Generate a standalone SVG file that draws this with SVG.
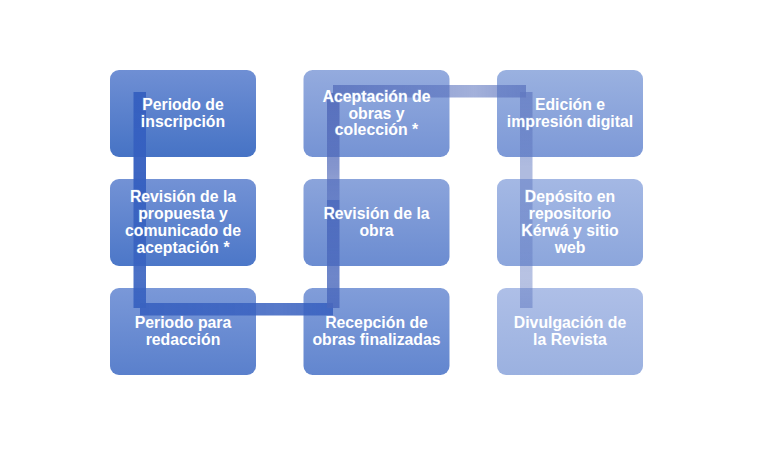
<svg xmlns="http://www.w3.org/2000/svg" xmlns:xlink="http://www.w3.org/1999/xlink" width="767" height="450" viewBox="0 0 767 450">
<style>
.label{font-family:"Liberation Sans",Arial,"DejaVu Sans",sans-serif;font-weight:bold;font-size:15.8px;text-anchor:middle}
.node{fill:#ffffff}
</style>
<defs>
<linearGradient id="b1" x1="0" y1="0" x2="0" y2="1"><stop offset="0" stop-color="#6f8fd4"/><stop offset="1" stop-color="#4673c5"/></linearGradient>
<linearGradient id="b2" x1="0" y1="0" x2="0" y2="1"><stop offset="0" stop-color="#7392d5"/><stop offset="1" stop-color="#4c77c8"/></linearGradient>
<linearGradient id="b3" x1="0" y1="0" x2="0" y2="1"><stop offset="0" stop-color="#7a98d8"/><stop offset="1" stop-color="#5a80cc"/></linearGradient>
<linearGradient id="b4" x1="0" y1="0" x2="0" y2="1"><stop offset="0" stop-color="#819dd9"/><stop offset="1" stop-color="#6286cf"/></linearGradient>
<linearGradient id="b5" x1="0" y1="0" x2="0" y2="1"><stop offset="0" stop-color="#8ba4db"/><stop offset="1" stop-color="#6b8cd1"/></linearGradient>
<linearGradient id="b6" x1="0" y1="0" x2="0" y2="1"><stop offset="0" stop-color="#94abde"/><stop offset="1" stop-color="#7593d4"/></linearGradient>
<linearGradient id="b7" x1="0" y1="0" x2="0" y2="1"><stop offset="0" stop-color="#9ab1e0"/><stop offset="1" stop-color="#7d99d7"/></linearGradient>
<linearGradient id="b8" x1="0" y1="0" x2="0" y2="1"><stop offset="0" stop-color="#a4b8e4"/><stop offset="1" stop-color="#8ca6dc"/></linearGradient>
<linearGradient id="b9" x1="0" y1="0" x2="0" y2="1"><stop offset="0" stop-color="#aebfe7"/><stop offset="1" stop-color="#9bb1e0"/></linearGradient>

<linearGradient id="g1" x1="0" y1="0" x2="0" y2="1"><stop offset="0" stop-color="#3660c0" stop-opacity="0.98"/><stop offset="0.7" stop-color="#3660c0" stop-opacity="0.96"/><stop offset="1" stop-color="#3660c0" stop-opacity="0.98"/></linearGradient>
<linearGradient id="g2" x1="0" y1="0" x2="0" y2="1"><stop offset="0" stop-color="#3862c0" stop-opacity="0.97"/><stop offset="0.71" stop-color="#3862c0" stop-opacity="0.9"/><stop offset="1" stop-color="#3862c0" stop-opacity="0.95"/></linearGradient>
<linearGradient id="g3" x1="0" y1="0" x2="1" y2="0"><stop offset="0" stop-color="#3a62c0" stop-opacity="0.92"/><stop offset="0.725" stop-color="#3a62c0" stop-opacity="0.85"/><stop offset="1" stop-color="#3a62c0" stop-opacity="0.9"/></linearGradient>
<linearGradient id="g4" x1="0" y1="1" x2="0" y2="0"><stop offset="0" stop-color="#4a68bc" stop-opacity="0.85"/><stop offset="0.29" stop-color="#4a68bc" stop-opacity="0.8"/><stop offset="1" stop-color="#4a68bc" stop-opacity="0.9"/></linearGradient>
<linearGradient id="g5" x1="0" y1="0" x2="0" y2="1"><stop offset="0" stop-color="#5068b8" stop-opacity="0.85"/><stop offset="0.7" stop-color="#5068b8" stop-opacity="0.7"/><stop offset="1" stop-color="#5068b8" stop-opacity="0.55"/></linearGradient>
<linearGradient id="g6" x1="0" y1="0" x2="1" y2="0"><stop offset="0" stop-color="#5870bc" stop-opacity="0.8"/><stop offset="0.73" stop-color="#5870bc" stop-opacity="0.55"/><stop offset="1" stop-color="#5870bc" stop-opacity="0.7"/></linearGradient>
<linearGradient id="g7" x1="0" y1="0" x2="0" y2="1"><stop offset="0" stop-color="#6078c0" stop-opacity="0.7"/><stop offset="0.7" stop-color="#6078c0" stop-opacity="0.5"/><stop offset="1" stop-color="#6078c0" stop-opacity="0.5"/></linearGradient>
<linearGradient id="g8" x1="0" y1="0" x2="0" y2="1"><stop offset="0" stop-color="#6078c0" stop-opacity="0.5"/><stop offset="0.71" stop-color="#6078c0" stop-opacity="0.45"/><stop offset="1" stop-color="#6078c0" stop-opacity="0.5"/></linearGradient>

<mask id="textGap" maskUnits="userSpaceOnUse" x="0" y="0" width="767" height="450">
<rect x="0" y="0" width="767" height="450" fill="#fff"/>
<g fill="#000" stroke="#000" stroke-width="1.2">
<use href="#t1"/><use href="#t2"/><use href="#t3"/><use href="#t4"/><use href="#t5"/><use href="#t6"/><use href="#t7"/><use href="#t8"/><use href="#t9"/>
</g>
</mask>
</defs>

<rect width="767" height="450" fill="#ffffff"/>

<g id="node-1" class="node">
<rect x="110" y="70" width="146" height="87" rx="9" fill="url(#b1)"/>
<text id="t1" class="label"><tspan x="183" y="110.2">Periodo de</tspan><tspan x="183" y="126.9">inscripción</tspan></text>
</g>
<g id="node-2" class="node">
<rect x="110" y="179" width="146" height="87" rx="9" fill="url(#b2)"/>
<text id="t2" class="label"><tspan x="183" y="202.4">Revisión de la</tspan><tspan x="183" y="219.1">propuesta y</tspan><tspan x="183" y="235.8">comunicado de</tspan><tspan x="183" y="252.5">aceptación *</tspan></text>
</g>
<g id="node-3" class="node">
<rect x="110" y="288" width="146" height="87" rx="9" fill="url(#b3)"/>
<text id="t3" class="label"><tspan x="183" y="328.2">Periodo para</tspan><tspan x="183" y="344.9">redacción</tspan></text>
</g>
<g id="node-4" class="node">
<rect x="303.5" y="288" width="146" height="87" rx="9" fill="url(#b4)"/>
<text id="t4" class="label"><tspan x="376.5" y="328.2">Recepción de</tspan><tspan x="376.5" y="344.9">obras finalizadas</tspan></text>
</g>
<g id="node-5" class="node">
<rect x="303.5" y="179" width="146" height="87" rx="9" fill="url(#b5)"/>
<text id="t5" class="label"><tspan x="376.5" y="219.1">Revisión de la</tspan><tspan x="376.5" y="235.8">obra</tspan></text>
</g>
<g id="node-6" class="node">
<rect x="303.5" y="70" width="146" height="87" rx="9" fill="url(#b6)"/>
<text id="t6" class="label"><tspan x="376.5" y="101.8">Aceptación de</tspan><tspan x="376.5" y="118.5">obras y</tspan><tspan x="376.5" y="135.2">colección *</tspan></text>
</g>
<g id="node-7" class="node">
<rect x="497" y="70" width="146" height="87" rx="9" fill="url(#b7)"/>
<text id="t7" class="label"><tspan x="570" y="110.2">Edición e</tspan><tspan x="570" y="126.9">impresión digital</tspan></text>
</g>
<g id="node-8" class="node">
<rect x="497" y="179" width="146" height="87" rx="9" fill="url(#b8)"/>
<text id="t8" class="label"><tspan x="570" y="202.4">Depósito en</tspan><tspan x="570" y="219.1">repositorio</tspan><tspan x="570" y="235.8">Kérwá y sitio</tspan><tspan x="570" y="252.5">web</tspan></text>
</g>
<g id="node-9" class="node">
<rect x="497" y="288" width="146" height="87" rx="9" fill="url(#b9)"/>
<text id="t9" class="label"><tspan x="570" y="328.2">Divulgación de</tspan><tspan x="570" y="344.9">la Revista</tspan></text>
</g>

<g id="connectors" mask="url(#textGap)">
<rect id="c1-2" x="133.5" y="92" width="12.5" height="108" fill="url(#g1)"/>
<rect id="c2-3" x="133.5" y="200" width="12.5" height="108" fill="url(#g2)"/>
<rect id="c3-4" x="140" y="303" width="193" height="12.5" fill="url(#g3)"/>
<rect id="c4-5" x="327" y="200" width="12.5" height="108" fill="url(#g4)"/>
<rect id="c5-6" x="327" y="93" width="12.5" height="107" fill="url(#g5)"/>
<rect id="c6-7" x="333" y="85" width="193" height="12.5" fill="url(#g6)"/>
<rect id="c7-8" x="520" y="92" width="12.5" height="108" fill="url(#g7)"/>
<rect id="c8-9" x="520" y="200" width="12.5" height="108" fill="url(#g8)"/>
</g>
</svg>
